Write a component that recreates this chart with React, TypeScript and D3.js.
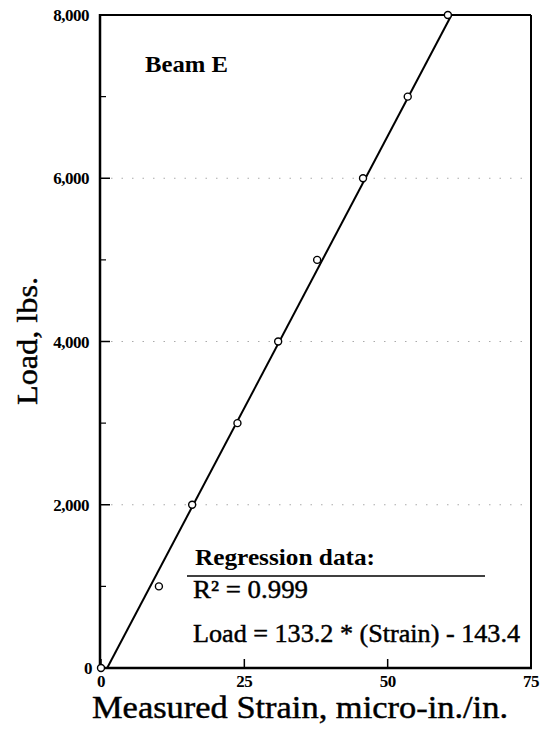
import React from "react";
import * as d3 from "d3";

const strain = [0, 10.1, 15.9, 23.8, 30.9, 37.7, 45.7, 53.5, 60.5];
const load = [0, 1000, 2000, 3000, 4000, 5000, 6000, 7000, 8000];
const xTicks = [0, 25, 50, 75];
const yTicks = [0, 2000, 4000, 6000, 8000];
const yMinorTicks = [1000, 3000, 5000, 7000];
const gridValues = [2000, 4000, 6000];
const slope = 133.2;
const intercept = -143.4;
const title = "Beam E";
const regTitle = "Regression data:";
const regR2 = "R² = 0.999";
const regEq = "Load = 133.2 * (Strain) - 143.4";
const xLabel = "Measured Strain,  micro-in./in.";
const yLabel = "Load,  lbs.";

const W = 547;
const H = 732;

export default function App() {
  const x = d3.scaleLinear().domain([0, 75]).range([101, 531]);
  const y = d3.scaleLinear().domain([0, 8000]).range([668, 15]);
  const fmt = d3.format(",");
  const serif = "'Liberation Serif', 'Times New Roman', serif";

  const lineLoads = [0, 8000];
  const lineGen = d3
    .line<number>()
    .x((l) => x((l - intercept) / slope))
    .y((l) => y(l));

  const pts = strain.map((s, i) => ({ s, l: load[i] }));
  const heavy = { stroke: "#000", strokeWidth: 0.45 };

  return (
    <svg
      width={W}
      height={H}
      style={{ position: "absolute", left: 0, top: 0, background: "#fff" }}
      fontFamily={serif}
    >
      <rect width={W} height={H} fill="#fff" />
      {/* gridlines */}
      {gridValues.map((g) => (
        <line
          key={g}
          x1={x(0) + 10}
          x2={x(75)}
          y1={y(g)}
          y2={y(g)}
          stroke="#aaa"
          strokeWidth={1}
          strokeDasharray="1.5,9"
        />
      ))}
      {/* frame */}
      <line x1={x(0)} x2={x(75)} y1={y(8000)} y2={y(8000)} stroke="#000" strokeWidth={2} />
      <line x1={x(75)} x2={x(75)} y1={y(8000)} y2={y(0)} stroke="#000" strokeWidth={2} />
      <line x1={x(0) - 1} x2={x(75) + 1} y1={y(0)} y2={y(0)} stroke="#000" strokeWidth={2.5} />
      <line x1={x(0) - 1} x2={x(0) - 1} y1={y(8000) - 1} y2={y(0)} stroke="#000" strokeWidth={2.5} />
      {/* left ticks */}
      {yTicks.map((t) => (
        <line key={"yt" + t} x1={x(0)} x2={x(0) + 9} y1={y(t)} y2={y(t)} stroke="#000" strokeWidth={1.5} />
      ))}
      {yMinorTicks.map((t) => (
        <line key={"ym" + t} x1={x(0)} x2={x(0) + 5} y1={y(t)} y2={y(t)} stroke="#000" strokeWidth={1.2} />
      ))}
      {/* bottom ticks */}
      {xTicks.map((t) => (
        <line key={"xt" + t} x1={x(t)} x2={x(t)} y1={y(0)} y2={y(0) - 9} stroke="#000" strokeWidth={1.5} />
      ))}
      {/* tick labels */}
      {yTicks.map((t) => (
        <text
          key={"yl" + t}
          x={t === 0 ? 92 : 89}
          y={y(t) + 6}
          textAnchor="end"
          fontSize={17}
          fontWeight="bold"
          letterSpacing={-0.5}
        >
          {fmt(t)}
        </text>
      ))}
      {xTicks.map((t) => (
        <text
          key={"xl" + t}
          x={x(t)}
          y={687}
          textAnchor="middle"
          fontSize={17}
          fontWeight="bold"
          letterSpacing={-0.5}
        >
          {t}
        </text>
      ))}
      {/* regression line */}
      <path d={lineGen(lineLoads) || ""} fill="none" stroke="#000" strokeWidth={2} />
      {/* points */}
      {pts.map((p, i) => (
        <circle key={i} cx={x(p.s)} cy={y(p.l)} r={3.5} fill="#fff" stroke="#000" strokeWidth={1.4} />
      ))}
      {/* title */}
      <text x={145} y={72} fontSize={24} fontWeight="bold" textLength={83} lengthAdjust="spacingAndGlyphs">
        {title}
      </text>
      {/* regression box */}
      <text x={195} y={565} fontSize={23} fontWeight="bold" textLength={180} lengthAdjust="spacingAndGlyphs">
        {regTitle}
      </text>
      <line x1={187} x2={485} y1={576} y2={576} stroke="#000" strokeWidth={1.5} />
      <text x={193} y={598} fontSize={25} textLength={115} lengthAdjust="spacingAndGlyphs" {...heavy}>
        {regR2}
      </text>
      <text x={193} y={642} fontSize={25} textLength={327} lengthAdjust="spacingAndGlyphs" {...heavy}>
        {regEq}
      </text>
      {/* axis labels */}
      <text x={92} y={718} fontSize={31} textLength={416} lengthAdjust="spacingAndGlyphs" {...heavy}>
        {xLabel}
      </text>
      <text
        transform={`translate(37, 341) rotate(-90)`}
        textAnchor="middle"
        fontSize={30}
        textLength={128}
        lengthAdjust="spacingAndGlyphs"
        {...heavy}
      >
        {yLabel}
      </text>
    </svg>
  );
}
